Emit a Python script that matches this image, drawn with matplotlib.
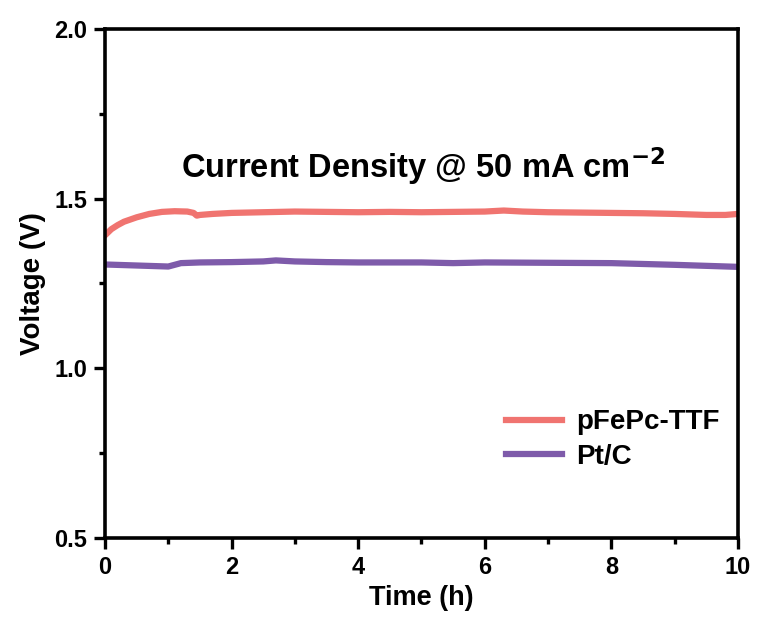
import matplotlib.pyplot as plt
import numpy as np

plt.rcParams['font.family'] = ['Liberation Sans', 'DejaVu Sans']
plt.rcParams['font.weight'] = 'bold'
plt.rcParams['mathtext.default'] = 'bf'

# Chronopotentiometry at 50 mA cm-2
t_fepc = [0, 0.1, 0.2, 0.3, 0.5, 0.7, 0.9, 1.1, 1.3, 1.4, 1.45, 1.5, 1.7, 2, 2.5,
          3, 3.5, 4, 4.5, 5, 5.5, 6, 6.3, 6.6, 7, 7.5, 8, 8.5, 9, 9.5, 9.8, 10]
v_fepc = [1.392, 1.41, 1.422, 1.432, 1.445, 1.455, 1.461, 1.463, 1.462, 1.458, 1.450,
          1.452, 1.455, 1.458, 1.460, 1.462, 1.461, 1.460, 1.461, 1.460, 1.461, 1.462,
          1.465, 1.462, 1.460, 1.459, 1.458, 1.457, 1.455, 1.452, 1.452, 1.455]

t_ptc = [0, 0.5, 1, 1.2, 1.5, 2, 2.5, 2.7, 3, 3.5, 4, 5, 5.5, 6, 7, 8, 9, 9.5, 10]
v_ptc = [1.306, 1.303, 1.300, 1.310, 1.312, 1.313, 1.315, 1.318, 1.315, 1.313, 1.312,
         1.312, 1.310, 1.312, 1.311, 1.310, 1.305, 1.302, 1.299]

fig = plt.figure(figsize=(7.58, 6.21), dpi=100)
ax = fig.add_axes([0.1385, 0.1337, 0.8351, 0.8196])

ax.plot(t_fepc, v_fepc, color='#F07470', lw=4.5, label='pFePc-TTF')
ax.plot(t_ptc, v_ptc, color='#7E5BAA', lw=4.5, label='Pt/C')

ax.set_xlim(0, 10)
ax.set_ylim(0.5, 2.0)
ax.set_xticks(np.arange(0, 11, 2))
ax.set_xticks(np.arange(1, 10, 2), minor=True)
ax.set_yticks([0.5, 1.0, 1.5, 2.0])
ax.set_yticks([0.75, 1.25, 1.75], minor=True)
ax.tick_params(axis='both', which='major', direction='out', length=8, width=2.4,
               labelsize=17, top=False, right=False, pad=5)
ax.tick_params(axis='both', which='minor', direction='out', length=4, width=2.4,
               top=False, right=False)
for lab in ax.get_xticklabels() + ax.get_yticklabels():
    lab.set_fontweight('bold')
for s in ax.spines.values():
    s.set_linewidth(2.6)

ax.set_xlabel('Time (h)', fontsize=19.5, fontweight='bold', labelpad=4)
ax.set_ylabel('Voltage (V)', fontsize=20, fontweight='bold', labelpad=6)

ax.text(5.02, 1.595, 'Current Density @ 50 mA cm$^{-2}$', fontsize=23.5,
        fontweight='bold', ha='center', va='center')

ax.legend(loc='lower right', bbox_to_anchor=(1.01, 0.085), frameon=False,
          handlelength=2.0, handletextpad=0.5, labelspacing=0.3,
          prop={'weight': 'bold', 'size': 20})

fig.savefig('out.png', dpi=100)
